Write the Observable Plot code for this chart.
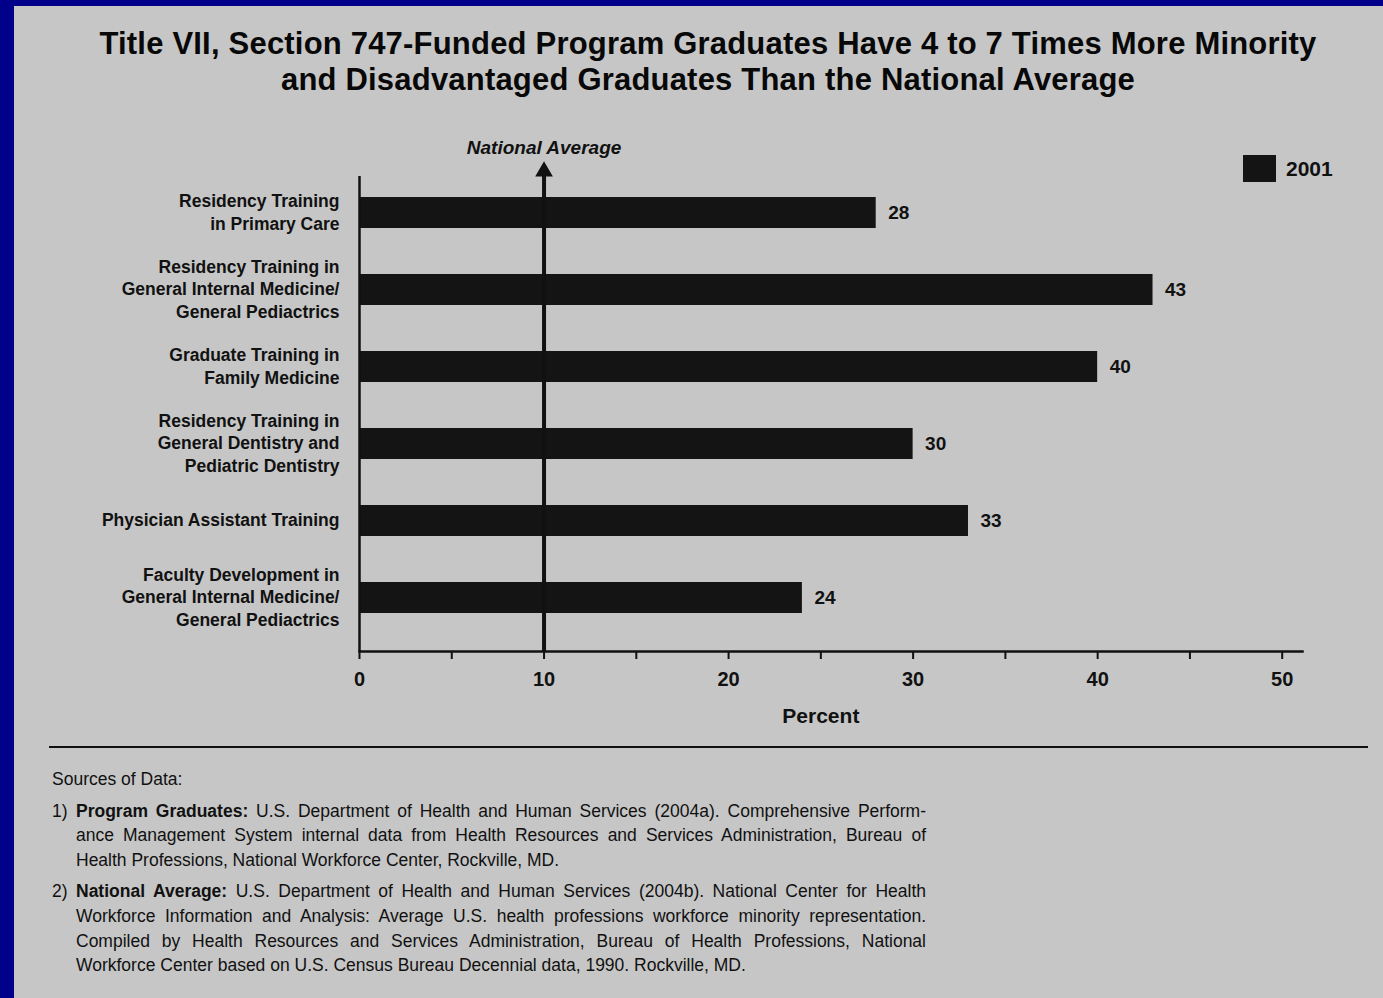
<!DOCTYPE html>
<html>
<head>
<meta charset="utf-8">
<script src="https://cdn.jsdelivr.net/npm/d3@7"></script>
<script src="https://cdn.jsdelivr.net/npm/@observablehq/plot@0.6"></script>
<style>
  html, body { margin: 0; padding: 0; width: 1383px; height: 998px; overflow: hidden; background: #00008b; }
  #panel { position: absolute; left: 14px; top: 6px; width: 1369px; height: 992px; background: #c6c6c6; color: #111; }
  #title { position: absolute; left: 0; top: 20px; width: 1369px; padding-left: 19px; box-sizing: border-box; text-align: center;
           font-family: "Liberation Sans", Arial, sans-serif; font-weight: bold; font-size: 31px; line-height: 36px; letter-spacing: 0.2px; color: #080808; }
  #chart { position: absolute; left: 0; top: 94px; }
  #legend { position: absolute; left: 1229px; top: 149px; display: flex; align-items: center;
            font-family: "Liberation Sans Narrow", "Liberation Sans", sans-serif; font-weight: bold; font-size: 21px; }
  #legend .sw { width: 33px; height: 27px; background: #141414; margin-right: 10px; }
  #rule { position: absolute; left: 35px; top: 740px; width: 1319px; height: 0; border-top: 2px solid #111; }
  #sources { position: absolute; left: 38px; top: 761px; width: 900px;
             font-family: "Liberation Sans Narrow", "Liberation Sans", sans-serif; font-size: 17.5px; line-height: 24.6px; }
  #sources .item { position: relative; padding-left: 24px; margin-top: 7px; }
  #sources .num { position: absolute; left: 0; top: 0; }
  #sources .ln { width: 850px; text-align: justify; text-align-last: justify; white-space: nowrap; }
  #sources .ln.last { text-align-last: left; }
</style>
</head>
<body>
<div id="panel">
  <div id="title">Title VII, Section 747-Funded Program Graduates Have 4 to 7 Times More Minority<br>and Disadvantaged Graduates Than the National Average</div>
  <div id="chart"></div>
  <div id="legend"><div class="sw"></div><span id="legendLabel"></span></div>
  <div id="rule"></div>
  <div id="sources">
    <div>Sources of Data:</div>
    <div class="item"><span class="num">1)</span>
      <div class="ln"><b>Program Graduates:</b> U.S. Department of Health and Human Services (2004a). Comprehensive Perform-</div>
      <div class="ln">ance Management System internal data from Health Resources and Services Administration, Bureau of</div>
      <div class="ln last">Health Professions, National Workforce Center, Rockville, MD.</div>
    </div>
    <div class="item"><span class="num">2)</span>
      <div class="ln"><b>National Average:</b> U.S. Department of Health and Human Services (2004b). National Center for Health</div>
      <div class="ln">Workforce Information and Analysis: Average U.S. health professions workforce minority representation.</div>
      <div class="ln">Compiled by Health Resources and Services Administration, Bureau of Health Professions, National</div>
      <div class="ln last">Workforce Center based on U.S. Census Bureau Decennial data, 1990. Rockville, MD.</div>
    </div>
  </div>
</div>
<script>
const categories = [
  "Residency Training\nin Primary Care",
  "Residency Training in\nGeneral Internal Medicine/\nGeneral Pediactrics",
  "Graduate Training in\nFamily Medicine",
  "Residency Training in\nGeneral Dentistry and\nPediatric Dentistry",
  "Physician Assistant Training",
  "Faculty Development in\nGeneral Internal Medicine/\nGeneral Pediactrics"
];
const values2001 = [28, 43, 40, 30, 33, 24];
const seriesName = "2001";
const nationalAverage = 10;
const nationalAverageLabel = "National Average";
const xTicks = [0, 5, 10, 15, 20, 25, 30, 35, 40, 45, 50];
const xTickLabels = [0, 10, 20, 30, 40, 50];
const xLabel = "Percent";

document.getElementById("legendLabel").textContent = seriesName;

const data = categories.map((c, i) => ({cat: c, value: values2001[i]}));
const narrow = "'Liberation Sans Narrow', 'Liberation Sans', sans-serif";
const ink = "#111";

const chart = Plot.plot({
  width: 1369,
  height: 640,
  marginLeft: 345,
  marginRight: 81,
  marginTop: 63,
  marginBottom: 89,
  style: {background: "transparent", fontFamily: narrow, color: ink},
  x: {domain: [0, 51.1]},
  y: {domain: categories, range: [95, 514], paddingInner: 0.6, paddingOuter: 0},
  marks: [
    Plot.barX(data, {x: "value", y: "cat", fill: "#141414"}),
    Plot.text(data, {x: "value", y: "cat", text: d => String(d.value), textAnchor: "start", dx: 12,
      fontSize: 19, fontWeight: "bold", fill: ink}),
    Plot.ruleX([0], {stroke: ink, strokeWidth: 2.5, insetTop: 13}),
    Plot.ruleX([nationalAverage], {stroke: ink, strokeWidth: 4, insetTop: 10}),
    Plot.dot([nationalAverage], {x: d => d, frameAnchor: "top", symbol: "triangle", r: 5.6, fill: ink, stroke: ink, dy: 8}),
    Plot.text([nationalAverageLabel], {x: () => nationalAverage, text: d => d, frameAnchor: "top", dy: -23,
      fontSize: 19, fontWeight: "bold", fontStyle: "italic", fill: ink}),
    Plot.frame({anchor: "bottom", stroke: ink, strokeWidth: 2.5}),
    Plot.axisX({ticks: xTicks, tickSize: 8, tickPadding: 12, fontSize: 20, fontWeight: "bold",
      tickFormat: d => xTickLabels.includes(d) ? String(d) : "", label: null, strokeWidth: 2}),
    Plot.text([xLabel], {x: () => 25, text: d => d, frameAnchor: "bottom", dy: 71, fontSize: 21, fontWeight: "bold", fill: ink}),
    Plot.axisY({tickSize: 0, tickPadding: 20, fontSize: 17.5, fontWeight: "bold", lineHeight: 1.3, label: null, dy: -2})
  ]
});
document.getElementById("chart").appendChild(chart);
</script>
</body>
</html>
